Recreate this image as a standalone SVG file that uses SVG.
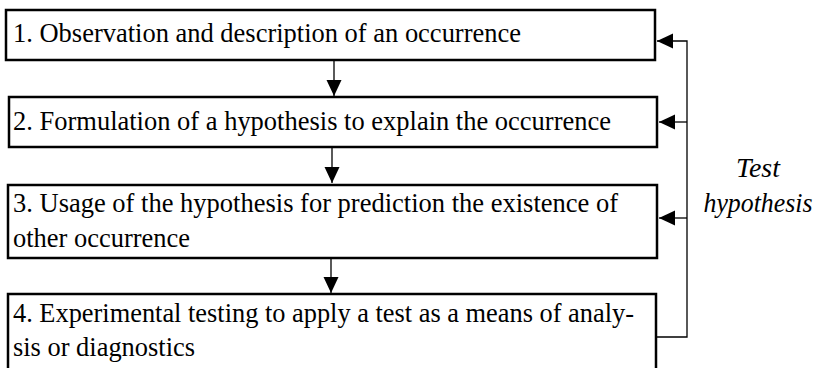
<svg xmlns="http://www.w3.org/2000/svg" width="820" height="368" viewBox="0 0 820 368">
<style>
.box{fill:#fff;stroke:#000;stroke-width:2.5}
.t{font-family:'Liberation Serif','Times New Roman',Times,'DejaVu Serif',serif;font-size:26.5px;fill:#000}
.it{font-family:'Liberation Serif','Times New Roman',Times,'DejaVu Serif',serif;font-size:26.5px;font-style:italic;fill:#000;text-anchor:middle}
.c{fill:none;stroke:#000;stroke-width:1.3}
</style>
<defs>
<marker id="ah" markerUnits="userSpaceOnUse" markerWidth="17" markerHeight="16" refX="16" refY="7.5" orient="auto">
<polygon points="0,0 16,7.5 0,15" fill="#000"/>
</marker>
</defs>
<rect width="820" height="368" fill="#fff"/>
<g id="connectors">
<line class="c" x1="334" y1="61" x2="334" y2="96" marker-end="url(#ah)"/>
<line class="c" x1="332" y1="148" x2="332" y2="183" marker-end="url(#ah)"/>
<line class="c" x1="331" y1="259" x2="331" y2="293" marker-end="url(#ah)"/>
<polyline class="c" points="657,337 687,337 687,41 657,41" marker-end="url(#ah)"/>
<polyline class="c" points="687,122 659,122" marker-end="url(#ah)"/>
<polyline class="c" points="687,218 659,218" marker-end="url(#ah)"/>
</g>
<g id="node1">
<rect class="box" x="6" y="10" width="649" height="50"/>
<text class="t" x="13" y="42" textLength="508" lengthAdjust="spacingAndGlyphs">1. Observation and description of an occurrence</text>
</g>
<g id="node2">
<rect class="box" x="9" y="97" width="648" height="50"/>
<text class="t" x="13" y="130" textLength="598" lengthAdjust="spacingAndGlyphs">2. Formulation of a hypothesis to explain the occurrence</text>
</g>
<g id="node3">
<rect class="box" x="8" y="185" width="649" height="73"/>
<text class="t" x="13" y="212" textLength="605" lengthAdjust="spacingAndGlyphs">3. Usage of the hypothesis for prediction the existence of</text>
<text class="t" x="13" y="247" textLength="177" lengthAdjust="spacingAndGlyphs">other occurrence</text>
</g>
<g id="node4">
<rect class="box" x="8" y="294" width="648" height="90"/>
<text class="t" x="13" y="322" textLength="621" lengthAdjust="spacingAndGlyphs">4. Experimental testing to apply a test as a means of analy-</text>
<text class="t" x="13" y="356" textLength="182" lengthAdjust="spacingAndGlyphs">sis or diagnostics</text>
</g>
<g id="label">
<text class="it" x="758" y="177" textLength="44" lengthAdjust="spacingAndGlyphs">Test</text>
<text class="it" x="758" y="212" textLength="109" lengthAdjust="spacingAndGlyphs">hypothesis</text>
</g>
</svg>
